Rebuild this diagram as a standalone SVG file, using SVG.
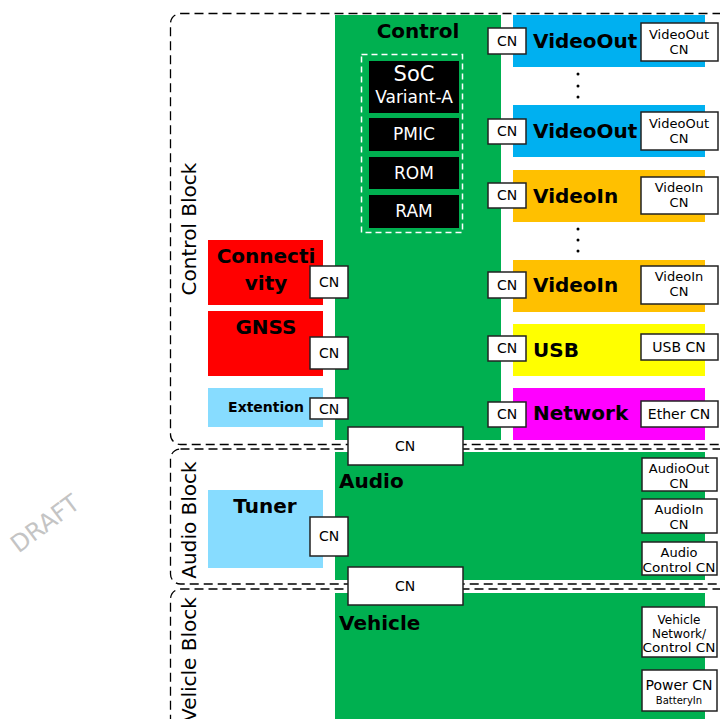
<svg xmlns="http://www.w3.org/2000/svg" width="720" height="719" viewBox="0 0 720 719">
<style>
text{font-family:"DejaVu Sans","Liberation Sans",sans-serif;fill:#000}
.blk{fill:none;stroke:#000;stroke-width:1.3;stroke-dasharray:9 5}
.grn{fill:#00b050}
.cn{fill:#fff;stroke:#222;stroke-width:1.5}
.t14{font-size:14px;text-anchor:middle}
.t13{font-size:13px;text-anchor:middle}
.t12{font-size:12px;text-anchor:middle}
.b20{font-size:20px;font-weight:bold}
.c20{font-size:20px;font-weight:bold;text-anchor:middle}
.chip{fill:#000}
.w{fill:#fff;text-anchor:middle}
.lbl{font-size:20px}
</style>
<g id="watermark"><text x="0" y="0" transform="translate(50,530) rotate(-37)" style="font-size:24px;fill:#c4c4c4;text-anchor:middle">DRAFT</text></g>
<g id="blocks">
<rect class="blk" x="170.5" y="13.5" width="600" height="431" rx="10"/>
<rect class="blk" x="170.5" y="449" width="600" height="135" rx="10"/>
<rect class="blk" x="170.5" y="589" width="600" height="200" rx="10"/>
<text class="lbl" transform="translate(196,229) rotate(-90)" text-anchor="middle">Control Block</text>
<text class="lbl" transform="translate(196,520) rotate(-90)" text-anchor="middle">Audio Block</text>
<text class="lbl" transform="translate(196,722) rotate(-90)">Velicle Block</text>
</g>
<g id="connectors"></g>
<g id="control">
<rect class="grn" x="335" y="15" width="166" height="425"/>
<text class="c20" x="418" y="38">Control</text>
<rect x="361.5" y="54.5" width="101" height="178" fill="none" stroke="#fff" stroke-width="1.5" stroke-dasharray="6 4"/>
<rect class="chip" x="369" y="61" width="90" height="52"/>
<text class="w" x="414" y="81" style="font-size:21px">SoC</text>
<text class="w" x="414" y="103" style="font-size:17px">Variant-A</text>
<rect class="chip" x="369" y="118" width="90" height="33"/>
<text class="w" x="414" y="140" style="font-size:17px">PMIC</text>
<rect class="chip" x="369" y="157" width="90" height="32"/>
<text class="w" x="414" y="179" style="font-size:17px">ROM</text>
<rect class="chip" x="369" y="195" width="90" height="33"/>
<text class="w" x="414" y="217" style="font-size:17px">RAM</text>
</g>
<g id="connectivity">
<rect x="208" y="240" width="115" height="65" fill="#ff0000"/>
<text class="c20" x="266" y="263">Connecti</text>
<text class="c20" x="266" y="290">vity</text>
<rect class="cn" x="310" y="266" width="38" height="32"/>
<text class="t14" x="329" y="287">CN</text>
</g>
<g id="gnss">
<rect x="208" y="311" width="115" height="65" fill="#ff0000"/>
<text class="c20" x="266" y="334">GNSS</text>
<rect class="cn" x="310" y="337" width="38" height="32"/>
<text class="t14" x="329" y="358">CN</text>
</g>
<g id="extention">
<rect x="208" y="388" width="115" height="39" fill="#87dcff"/>
<text x="266" y="412" style="font-size:14px;font-weight:bold;text-anchor:middle">Extention</text>
<rect class="cn" x="310" y="398" width="38" height="21"/>
<text class="t14" x="329" y="414">CN</text>
</g>
<g id="videoout1">
<rect x="513" y="15" width="192" height="52" fill="#00b0f0"/>
<rect class="cn" x="488" y="28" width="38" height="26"/>
<text class="t14" x="507" y="46">CN</text>
<text class="b20" x="533" y="48">VideoOut</text>
<rect class="cn" x="641" y="23" width="77" height="38"/>
<text class="t13" x="679" y="39">VideoOut</text>
<text class="t13" x="679" y="54">CN</text>
</g>
<g id="dots1" fill="#000"><circle cx="578" cy="74" r="1.5"/><circle cx="578" cy="86" r="1.5"/><circle cx="578" cy="97" r="1.5"/></g>
<g id="videoout2">
<rect x="513" y="105" width="192" height="52" fill="#00b0f0"/>
<rect class="cn" x="488" y="119" width="38" height="25"/>
<text class="t14" x="507" y="136">CN</text>
<text class="b20" x="533" y="138">VideoOut</text>
<rect class="cn" x="641" y="112" width="77" height="38"/>
<text class="t13" x="679" y="128">VideoOut</text>
<text class="t13" x="679" y="143">CN</text>
</g>
<g id="videoin1">
<rect x="513" y="170" width="192" height="52" fill="#ffc000"/>
<rect class="cn" x="488" y="183" width="38" height="25"/>
<text class="t14" x="507" y="200">CN</text>
<text class="b20" x="533" y="203">VideoIn</text>
<rect class="cn" x="641" y="177" width="77" height="37"/>
<text class="t13" x="679" y="192">VideoIn</text>
<text class="t13" x="679" y="207">CN</text>
</g>
<g id="dots2" fill="#000"><circle cx="578" cy="229" r="1.5"/><circle cx="578" cy="240" r="1.5"/><circle cx="578" cy="251" r="1.5"/></g>
<g id="videoin2">
<rect x="513" y="260" width="192" height="52" fill="#ffc000"/>
<rect class="cn" x="488" y="272" width="38" height="26"/>
<text class="t14" x="507" y="290">CN</text>
<text class="b20" x="533" y="292">VideoIn</text>
<rect class="cn" x="641" y="266" width="77" height="38"/>
<text class="t13" x="679" y="281">VideoIn</text>
<text class="t13" x="679" y="296">CN</text>
</g>
<g id="usb">
<rect x="513" y="324" width="192" height="52" fill="#ffff00"/>
<rect class="cn" x="488" y="336" width="38" height="25"/>
<text class="t14" x="507" y="353">CN</text>
<text class="b20" x="533" y="357">USB</text>
<rect class="cn" x="641" y="334" width="77" height="26"/>
<text class="t14" x="679" y="352">USB CN</text>
</g>
<g id="network">
<rect x="513" y="388" width="192" height="52" fill="#ff00ff"/>
<rect class="cn" x="488" y="402" width="38" height="25"/>
<text class="t14" x="507" y="419">CN</text>
<text class="b20" x="533" y="420">Network</text>
<rect class="cn" x="641" y="401" width="77" height="26"/>
<text class="t14" x="679" y="419">Ether CN</text>
</g>
<g id="audio">
<rect class="grn" x="335" y="452" width="370" height="128"/>
<rect class="cn" x="348" y="427" width="115" height="38"/>
<text class="t14" x="405" y="451">CN</text>
<text class="b20" x="339" y="488">Audio</text>
<rect class="cn" x="642" y="458" width="75" height="33"/>
<text class="t13" x="679" y="473">AudioOut</text>
<text class="t13" x="679" y="488">CN</text>
<rect class="cn" x="642" y="499" width="75" height="34"/>
<text class="t13" x="679" y="514">AudioIn</text>
<text class="t13" x="679" y="529">CN</text>
<rect class="cn" x="642" y="542" width="75" height="33"/>
<text class="t13" x="679" y="557">Audio</text>
<text class="t13" x="679" y="572" textLength="73" lengthAdjust="spacingAndGlyphs">Control CN</text>
</g>
<g id="tuner">
<rect x="208" y="490" width="115" height="78" fill="#87dcff"/>
<text class="c20" x="265" y="513">Tuner</text>
<rect class="cn" x="310" y="517" width="38" height="39"/>
<text class="t14" x="329" y="541">CN</text>
</g>
<g id="vehicle">
<rect class="grn" x="335" y="593" width="370" height="130"/>
<rect class="cn" x="348" y="567" width="115" height="38"/>
<text class="t14" x="405" y="591">CN</text>
<text class="b20" x="339" y="630">Vehicle</text>
<rect class="cn" x="642" y="607" width="75" height="50"/>
<text class="t12" x="679" y="624">Vehicle</text>
<text class="t12" x="679" y="638">Network/</text>
<text class="t12" x="679" y="652" textLength="73" lengthAdjust="spacingAndGlyphs">Control CN</text>
<rect class="cn" x="642" y="670" width="75" height="41"/>
<text class="t14" x="679" y="690">Power CN</text>
<text x="679" y="704" style="font-size:10px;text-anchor:middle">BatteryIn</text>
</g>
</svg>
